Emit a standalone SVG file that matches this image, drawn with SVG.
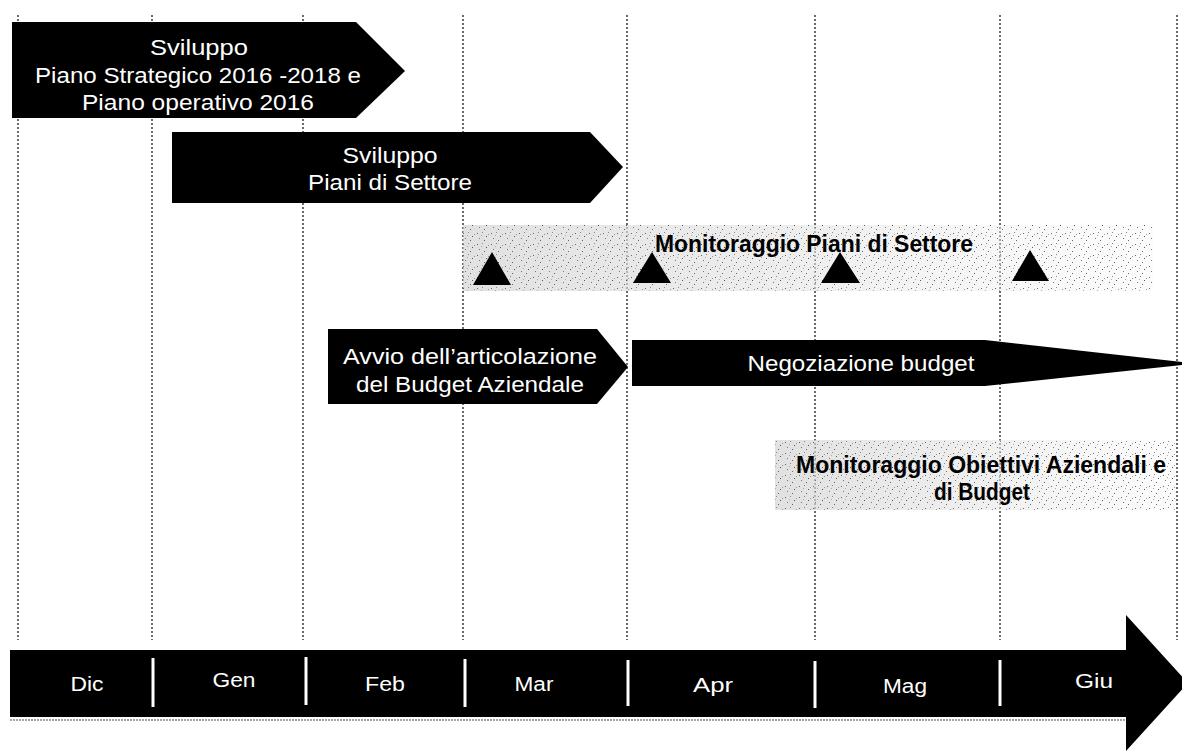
<svg xmlns="http://www.w3.org/2000/svg" width="1182" height="752" viewBox="0 0 1182 752">
<style>
.grid line{stroke:#3a3a3a;stroke-width:1.5;stroke-dasharray:2 2}
.shape{fill:#000}
.wt{fill:#fff;font-family:"Liberation Sans",Arial,sans-serif;font-size:22px;text-anchor:middle}
.mt{fill:#fff;font-family:"Liberation Sans",Arial,sans-serif;font-size:20px;text-anchor:middle}
.bt{fill:#000;font-family:"Liberation Sans",Arial,sans-serif;font-size:23px;font-weight:bold;text-anchor:middle}
.div{stroke:#fff;stroke-width:3}
</style>
<defs>
<pattern id="noise" width="14" height="11" patternUnits="userSpaceOnUse">
<rect x="1" y="2" width="1" height="1" fill="#666"/>
<rect x="6" y="1" width="1" height="1" fill="#888"/>
<rect x="10" y="5" width="1" height="1" fill="#555"/>
<rect x="3" y="7" width="1" height="1" fill="#777"/>
<rect x="8" y="9" width="1" height="1" fill="#666"/>
<rect x="12" y="3" width="1" height="1" fill="#999"/>
<rect x="5" y="4" width="1" height="1" fill="#aaa"/>
</pattern>
<linearGradient id="fade" x1="0" y1="0" x2="1" y2="0">
<stop offset="0" stop-color="#d4d4d4" stop-opacity="0.7"/>
<stop offset="0.5" stop-color="#e4e4e4" stop-opacity="0.6"/>
<stop offset="1" stop-color="#f4f4f4" stop-opacity="0.3"/>
</linearGradient>
</defs>
<rect width="1182" height="752" fill="#fff"/>
<g id="grid" class="grid">
<line x1="18" y1="15" x2="18" y2="640"/>
<line x1="152" y1="15" x2="152" y2="640"/>
<line x1="303" y1="15" x2="303" y2="640"/>
<line x1="463" y1="15" x2="463" y2="640"/>
<line x1="627" y1="15" x2="627" y2="640"/>
<line x1="815" y1="15" x2="815" y2="640"/>
<line x1="1000" y1="15" x2="1000" y2="640"/>
<line x1="1177" y1="15" x2="1177" y2="640"/>
</g>
<g id="piano-strategico">
<polygon class="shape" points="12,22 356,22 405,71 356,118 12,118"/>
<text class="wt" x="199" y="55" textLength="98" lengthAdjust="spacingAndGlyphs">Sviluppo</text>
<text class="wt" x="198" y="83" textLength="326" lengthAdjust="spacingAndGlyphs">Piano Strategico 2016 -2018 e</text>
<text class="wt" x="198" y="110" textLength="232" lengthAdjust="spacingAndGlyphs">Piano operativo 2016</text>
</g>
<g id="piani-settore">
<polygon class="shape" points="172,132 590,132 623,167 590,203 172,203"/>
<text class="wt" x="390" y="163" textLength="95" lengthAdjust="spacingAndGlyphs">Sviluppo</text>
<text class="wt" x="390" y="190" textLength="164" lengthAdjust="spacingAndGlyphs">Piani di Settore</text>
</g>
<g id="monitoraggio-piani">
<rect x="463" y="225" width="690" height="66" fill="url(#fade)"/>
<rect x="463" y="225" width="690" height="66" fill="url(#noise)"/>
<polygon class="shape" points="492,252 511,285 473,285"/>
<polygon class="shape" points="652,252 671,283 633,283"/>
<polygon class="shape" points="840,252 860,283 821,283"/>
<polygon class="shape" points="1030,250 1049,281 1012,281"/>
<text class="bt" x="814" y="252" textLength="318" lengthAdjust="spacingAndGlyphs">Monitoraggio Piani di Settore</text>
</g>
<g id="avvio-budget">
<polygon class="shape" points="328,329 597,329 628,367 597,404 328,404"/>
<text class="wt" x="470" y="364" textLength="254" lengthAdjust="spacingAndGlyphs">Avvio dell’articolazione</text>
<text class="wt" x="470" y="392" textLength="228" lengthAdjust="spacingAndGlyphs">del Budget Aziendale</text>
</g>
<g id="negoziazione">
<polygon class="shape" points="632,340 985,340 1182,362 1182,365 985,386 632,386"/>
<text class="wt" x="861" y="371" textLength="227" lengthAdjust="spacingAndGlyphs">Negoziazione budget</text>
</g>
<g id="monitoraggio-obiettivi">
<rect x="775" y="440" width="400" height="70" fill="url(#fade)"/>
<rect x="775" y="440" width="400" height="70" fill="url(#noise)"/>
<text class="bt" x="981" y="473" textLength="370" lengthAdjust="spacingAndGlyphs">Monitoraggio Obiettivi Aziendali e</text>
<text class="bt" x="982" y="500" textLength="96" lengthAdjust="spacingAndGlyphs">di Budget</text>
</g>
<g id="timeline">
<polygon class="shape" points="10,650 1126,650 1126,615 1188,683 1126,751 1126,717 10,717"/>
<line x1="10" y1="720" x2="1126" y2="720" stroke="#888" stroke-width="1.5" stroke-dasharray="2 1"/>
<line class="div" x1="153" y1="658" x2="153" y2="707"/>
<line class="div" x1="306" y1="657" x2="306" y2="705"/>
<line class="div" x1="465" y1="659" x2="465" y2="707"/>
<line class="div" x1="628" y1="660" x2="628" y2="706"/>
<line class="div" x1="815" y1="661" x2="815" y2="708"/>
<line class="div" x1="1000" y1="660" x2="1000" y2="706"/>
<text class="mt" x="87" y="691" textLength="33" lengthAdjust="spacingAndGlyphs">Dic</text>
<text class="mt" x="234" y="687" textLength="43" lengthAdjust="spacingAndGlyphs">Gen</text>
<text class="mt" x="385" y="691" textLength="40" lengthAdjust="spacingAndGlyphs">Feb</text>
<text class="mt" x="534" y="691" textLength="39" lengthAdjust="spacingAndGlyphs">Mar</text>
<text class="mt" x="713" y="692" textLength="40" lengthAdjust="spacingAndGlyphs">Apr</text>
<text class="mt" x="905" y="693" textLength="44" lengthAdjust="spacingAndGlyphs">Mag</text>
<text class="mt" x="1094" y="688" textLength="38" lengthAdjust="spacingAndGlyphs">Giu</text>
</g>
</svg>
